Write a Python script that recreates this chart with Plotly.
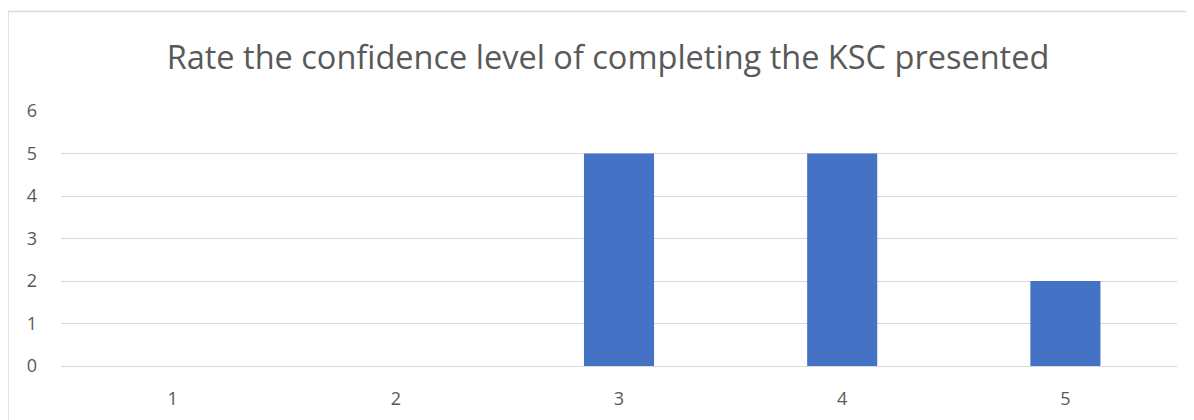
import plotly.graph_objects as go

categories = ["1", "2", "3", "4", "5"]
counts = [0, 0, 5, 5, 2]
y_ticks = [0, 1, 2, 3, 4, 5, 6]
title = "Rate the confidence level of completing the KSC presented"

W, H = 1194, 420
OFF = 8  # page body offset
L, T = 61 - OFF, 111 - OFF
R = W - (1177 - OFF)
B = H - (366 - OFF)
pw, ph = W - L - R, H - T - B

fig = go.Figure(go.Bar(x=categories, y=counts, marker=dict(color="#4472C4", line=dict(width=0)),
                       width=0.314))

def px_to_paper_x(px):
    return (px - OFF - L) / pw

def px_to_paper_y(py):
    return (H - B - (py - OFF)) / ph

fig.update_layout(
    width=W, height=H,
    margin=dict(l=L, r=R, t=T, b=B),
    paper_bgcolor="white", plot_bgcolor="white",
    showlegend=False,
    font=dict(family="Open Sans, Liberation Sans, sans-serif", color="#595959"),
    title=dict(text=title, x=px_to_paper_x(608), xref="paper", xanchor="center", y=1 - (58 - OFF) / H,
               yanchor="middle",
               font=dict(size=32.5, color="#595959", family="Open Sans, Liberation Sans, sans-serif")),
    xaxis=dict(type="category", showgrid=False, showline=True, linecolor="#d9d9d9", linewidth=1,
               ticks="", tickfont=dict(size=18, color="#595959"), ticklabelstandoff=16),
    yaxis=dict(range=[0, 6], tickvals=y_ticks, showgrid=True, gridcolor="#d9d9d9", gridwidth=1,
               zeroline=True, zerolinecolor="#d9d9d9", zerolinewidth=1, showline=False,
               ticks="", tickfont=dict(size=18, color="#595959"), ticklabelstandoff=23),
    shapes=[
        dict(type="line", xref="paper", yref="paper", x0=px_to_paper_x(8), x1=px_to_paper_x(8),
             y0=px_to_paper_y(11.5), y1=px_to_paper_y(440), line=dict(color="#d9d9d9", width=1.5)),
        dict(type="line", xref="paper", yref="paper", x0=px_to_paper_x(8), x1=px_to_paper_x(1220),
             y0=px_to_paper_y(11.5), y1=px_to_paper_y(11.5), line=dict(color="#d9d9d9", width=1.5)),
    ],
)

fig.write_html("out.html")
